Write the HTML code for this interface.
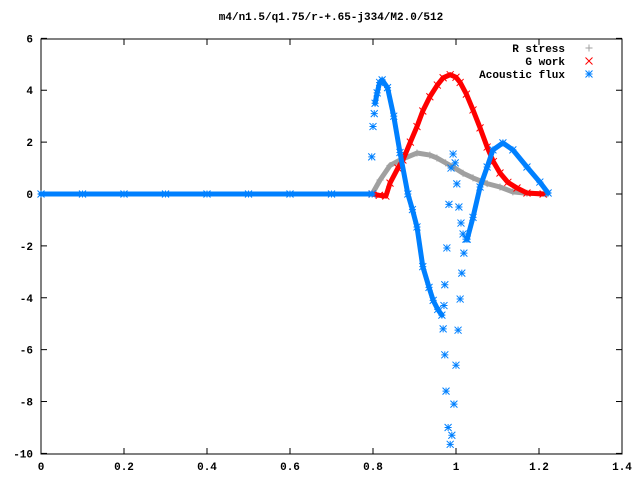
<!DOCTYPE html>
<html><head><meta charset="utf-8"><style>
html,body{margin:0;padding:0;background:#fff;}
svg text{font-family:"Liberation Mono",monospace;font-size:11px;font-weight:bold;fill:#000;}
</style></head><body>
<svg id="chart" width="640" height="480" xmlns="http://www.w3.org/2000/svg">
<text x="331" y="20" text-anchor="middle">m4/n1.5/q1.75/r-+.65-j334/M2.0/512</text>
<rect x="41" y="39" width="581" height="415" fill="none" stroke="#000" stroke-width="1"/>
<g id="axes"></g>
<g id="series"></g>
<g id="legend"></g>
</svg>
<script>
const xTicks=[0,0.2,0.4,0.6,0.8,1,1.2,1.4];
const yTicks=[6,4,2,0,-2,-4,-6,-8,-10];
const rX=[0.798,0.817,0.841,0.865,0.906,0.937,0.954,0.975,0.993,1.017,1.041,1.075,1.106,1.137,1.171,1.219];
const rY=[0,0.54,1.1,1.31,1.58,1.5,1.39,1.2,1.04,0.8,0.62,0.4,0.27,0.08,0.03,0];
const gX=[0.798,0.815,0.831,0.841,0.86,0.872,0.89,0.906,0.92,0.937,0.955,0.969,0.986,1.0,1.01,1.025,1.041,1.058,1.075,1.09,1.106,1.125,1.147,1.171,1.21];
const gY=[0,-0.05,-0.08,0.42,1.0,1.31,2.0,2.6,3.2,3.75,4.2,4.48,4.6,4.5,4.3,3.85,3.24,2.55,1.81,1.25,0.81,0.45,0.23,0.04,0];
const fX=[0,0.1,0.2,0.3,0.4,0.5,0.6,0.7,0.798];
const fY=[0,0,0,0,0,0,0,0,0];
const aX=[0.805,0.81,0.816,0.822,0.835,0.85,0.865,0.884,0.895,0.906,0.92,0.935,0.945,0.956,0.966];
const aY=[3.5,3.9,4.3,4.4,4.1,3.0,1.6,0,-0.6,-1.27,-2.8,-3.6,-4.1,-4.45,-4.67];
const bX=[1.027,1.041,1.058,1.075,1.089,1.113,1.137,1.171,1.202,1.222];
const bY=[-1.74,-0.9,0.27,1.04,1.7,1.97,1.7,1.04,0.46,0.04];
const sX=[0.797,0.8,0.803,0.969,0.973,0.976,0.981,0.986,0.99,0.995,1.0,1.005,1.01,1.014,1.019,1.024,0.971,0.973,0.978,0.983,0.988,0.993,0.998,1.002,1.007,1.012,1.017];
const sY=[1.43,2.6,3.1,-5.2,-6.2,-7.6,-9.0,-9.65,-9.3,-8.1,-6.6,-5.25,-4.05,-3.05,-2.28,-1.74,-4.3,-3.5,-2.08,-0.4,1.0,1.54,1.2,0.39,-0.5,-1.12,-1.54];
const X=v=>41+v*415, Y=v=>194-v*25.94;
const NS="http://www.w3.org/2000/svg";
function mk(tag,attrs,parent){const e=document.createElementNS(NS,tag);for(const k in attrs)e.setAttribute(k,attrs[k]);parent.appendChild(e);return e;}
const axes=document.getElementById('axes');
xTicks.forEach(t=>{
  const l=mk('line',{x1:X(t),x2:X(t),y1:454,y2:448,stroke:'#000'},axes);
  
  
  const l2=mk('line',{x1:X(t),x2:X(t),y1:39,y2:45,stroke:'#000'},axes);
  
  
  const tx=mk('text',{x:X(t),y:470,'text-anchor':'middle'},axes);tx.textContent=String(t);
  
  
});
yTicks.forEach(t=>{
  const l=mk('line',{x1:41,x2:47,y1:Y(t),y2:Y(t),stroke:'#000'},axes);
  
  
  const l2=mk('line',{x1:616,x2:622,y1:Y(t),y2:Y(t),stroke:'#000'},axes);
  
  
  const tx=mk('text',{x:33,y:Y(t)+4,'text-anchor':'end'},axes);tx.textContent=String(t);
  
  
});
function marker(type,cx,cy,col,parent){
  const s=3.5;let d='';
  if(type==='plus'||type==='star')d+=`M${cx-s},${cy}H${cx+s}M${cx},${cy-s}V${cy+s}`;
  if(type==='cross'||type==='star')d+=`M${cx-s},${cy-s}L${cx+s},${cy+s}M${cx-s},${cy+s}L${cx+s},${cy-s}`;
  const p=mk('path',{d:d,stroke:col,'stroke-width':1,fill:'none'},parent);
  
  
}
const ser=document.getElementById('series');
function curve(xs,ys,col,type,name,line){
  const g=mk('g',{},ser);
  
  
  if(line){const pl=mk('polyline',{points:xs.map((x,i)=>X(x)+','+Y(ys[i])).join(' '),fill:'none',stroke:col,'stroke-width':5,'stroke-linejoin':'round','stroke-linecap':'round'},g);
    
    }
  xs.forEach((x,i)=>marker(type,X(x),Y(ys[i]),col,g));
}
curve(rX,rY,'#a0a0a0','plus','r-stress-series',true);
curve(gX,gY,'#ff0000','cross','g-work-series',true);
curve(fX,fY,'#0080ff','star','acoustic-flux-flat',true);
curve(aX,aY,'#0080ff','star','acoustic-flux-series',true);
curve(bX,bY,'#0080ff','star','acoustic-flux-branch',true);
curve(sX,sY,'#0080ff','star','acoustic-flux-scatter',false);
const leg=document.getElementById('legend');
[['R stress','#a0a0a0','plus'],['G work','#ff0000','cross'],['Acoustic flux','#0080ff','star']].forEach((e,i)=>{
  const y=48+i*13;
  const t=mk('text',{x:565,y:y+4,'text-anchor':'end'},leg);t.textContent=e[0];
  
  
  marker(e[2],589,y,e[1],leg);
});
</script>
</body></html>
